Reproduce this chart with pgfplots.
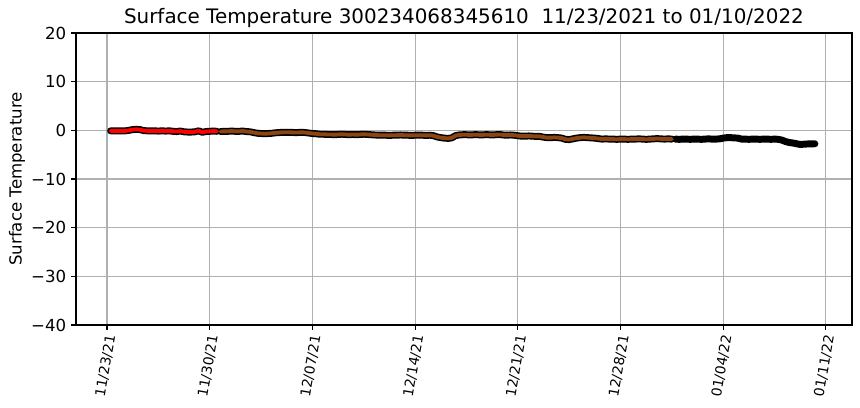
\documentclass[border=0pt]{standalone}
\usepackage{pgfplots}
\usepackage{pgfplotstable}
\pgfplotsset{compat=1.18}
\usepackage{fontspec}
\setmainfont{DejaVu Sans}
\definecolor{brn}{RGB}{139,69,19}
\definecolor{gridc}{RGB}{176,176,176}
\pgfplotstableread{
d v
0.25 -0.1
0.5 -0.1
0.75 -0.1
1.0 -0.1
1.25 -0.1
1.5 0.0
1.75 0.15
2.0 0.2
2.25 0.15
2.5 -0.05
2.75 -0.1
3.0 -0.1
3.25 -0.1
3.5 -0.15
3.75 -0.1
4.0 -0.15
4.25 -0.1
4.5 -0.2
4.75 -0.25
5.0 -0.15
5.25 -0.3
5.5 -0.35
5.75 -0.35
6.0 -0.3
6.25 -0.1
6.5 -0.4
6.75 -0.25
7.0 -0.2
7.25 -0.15
7.5 -0.2
}\nov
\pgfplotstableread{
d v
7.75 -0.25
8.0 -0.2
8.25 -0.2
8.5 -0.15
8.75 -0.2
9.0 -0.2
9.25 -0.15
9.5 -0.25
9.75 -0.3
10.0 -0.45
10.25 -0.6
10.5 -0.65
10.75 -0.7
11.0 -0.65
11.25 -0.6
11.5 -0.5
11.75 -0.45
12.0 -0.4
12.25 -0.4
12.5 -0.4
12.75 -0.45
13.0 -0.45
13.25 -0.4
13.5 -0.45
13.75 -0.55
14.0 -0.65
14.25 -0.7
14.5 -0.8
14.75 -0.8
15.0 -0.85
15.25 -0.85
15.5 -0.9
15.75 -0.85
16.0 -0.8
16.25 -0.85
16.5 -0.9
16.75 -0.85
17.0 -0.9
17.25 -0.85
17.5 -0.8
17.75 -0.85
18.0 -0.9
18.25 -0.95
18.5 -1.0
18.75 -1.0
19.0 -1.0
19.25 -1.05
19.5 -1.0
19.75 -1.0
20.0 -0.95
20.25 -1.0
20.5 -1.0
20.75 -1.05
21.0 -1.0
21.25 -1.0
21.5 -1.0
21.75 -1.05
22.0 -1.0
22.25 -1.1
22.5 -1.35
22.75 -1.5
23.0 -1.6
23.25 -1.65
23.5 -1.55
23.75 -1.1
24.0 -0.95
24.25 -0.9
24.5 -0.9
24.75 -0.95
25.0 -0.9
25.25 -0.9
25.5 -0.95
25.75 -0.9
26.0 -0.9
26.25 -0.95
26.5 -0.9
26.75 -0.85
27.0 -0.95
27.25 -1.0
27.5 -0.95
27.75 -1.0
28.0 -1.1
28.25 -1.2
28.5 -1.2
28.75 -1.15
29.0 -1.2
29.25 -1.25
29.5 -1.25
29.75 -1.4
30.0 -1.5
30.25 -1.5
30.5 -1.45
30.75 -1.5
31.0 -1.6
31.25 -1.85
31.5 -1.9
31.75 -1.75
32.0 -1.6
32.25 -1.5
32.5 -1.45
32.75 -1.5
33.0 -1.55
33.25 -1.6
33.5 -1.7
33.75 -1.8
34.0 -1.75
34.25 -1.8
34.5 -1.8
34.75 -1.85
35.0 -1.8
35.25 -1.8
35.5 -1.85
35.75 -1.8
36.0 -1.8
36.25 -1.75
36.5 -1.8
36.75 -1.85
37.0 -1.8
37.25 -1.75
37.5 -1.7
37.75 -1.75
38.0 -1.8
38.25 -1.75
38.5 -1.8
}\dec
\pgfplotstableread{
d v
38.75 -1.8
39.0 -1.85
39.25 -1.8
39.5 -1.8
39.75 -1.85
40.0 -1.8
40.25 -1.8
40.5 -1.85
40.75 -1.8
41.0 -1.75
41.25 -1.8
41.5 -1.8
41.75 -1.75
42.0 -1.6
42.25 -1.5
42.5 -1.5
42.75 -1.55
43.0 -1.6
43.25 -1.8
43.5 -1.8
43.75 -1.85
44.0 -1.8
44.25 -1.8
44.5 -1.85
44.75 -1.8
45.0 -1.8
45.25 -1.85
45.5 -1.8
45.75 -1.85
46.0 -2.0
46.25 -2.3
46.5 -2.5
46.75 -2.6
47.0 -2.75
47.25 -2.9
47.5 -2.85
47.75 -2.8
48.0 -2.8
48.25 -2.75
}\jan
\begin{document}
\begin{tikzpicture}
\useasboundingbox (-54.72bp,-59.76bp) rectangle (564.48bp,234bp);
\begin{axis}[at={(0,0)}, anchor=south west, scale only axis,
  width=558.72bp, height=210.24bp,
  xmin=-2.11, xmax=50.78, ymin=-40, ymax=20,
  xtick={0,7,14,21,28,35,42,49},
  xticklabels={11/23/21,11/30/21,12/07/21,12/14/21,12/21/21,12/28/21,01/04/22,01/11/22},
  ytick={-40,-30,-20,-10,0,10,20},
  yticklabels={−40,−30,−20,−10,0,10,20},
  grid=major, grid style={color=gridc, line width=0.8bp},
  axis line style={line width=0.8bp},
  tick style={line width=0.8bp, black},
  tick align=outside, tick pos=left, major tick length=3.5bp,
  xticklabel style={rotate=80, anchor=east, yshift=-3.5bp, font=\fontsize{10}{12}\selectfont},
  yticklabel style={font=\fontsize{12}{14}\selectfont},
  title={Surface Temperature 300234068345610\ \ 11/23/2021 to 01/10/2022},
  title style={font=\fontsize{14.4}{16}\selectfont, at={(axis description cs:0.5,1)}, anchor=base, yshift=0.7bp},
  ylabel={Surface Temperature},
  ylabel style={font=\fontsize{12}{14}\selectfont, at={(axis description cs:-0.076,0.5)}, anchor=center},
]
\addplot[black, line width=5bp, line cap=round, line join=round] table[x=d,y=v] {\nov};
\addplot[black, line width=5bp, line cap=round, line join=round] table[x=d,y=v] {\dec};
\addplot[black, line width=5bp, line cap=round, line join=round] table[x=d,y=v] {\jan};
\addplot[red, line width=2.8bp, line cap=round, line join=round] table[x=d,y=v] {\nov};
\addplot[brn, line width=2.8bp, line cap=round, line join=round] table[x=d,y=v] {\dec};
\end{axis}
\end{tikzpicture}
\end{document}
